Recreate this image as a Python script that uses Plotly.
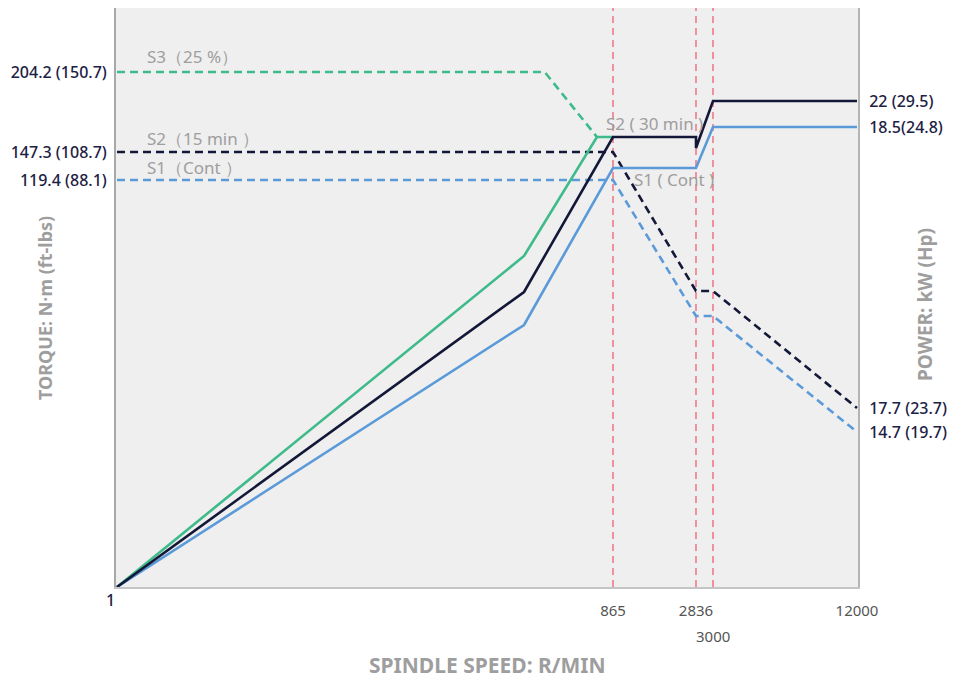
import numpy as np
import plotly.graph_objects as go

# ---------------- data ----------------
# spindle speed (r/min) ticks
speed_ticks = [865, 2836, 3000, 12000]
speed_tick_labels = ["865", "2836", "3000", "12000"]

# left axis: torque labels (N·m (ft-lbs)) and their schematic levels
torque_tick_labels = ["204.2 (150.7)", "147.3 (108.7)", "119.4 (88.1)"]
torque_tick_levels = [515, 435, 407]

# right axis: power labels (kW (Hp)) and their schematic levels
power_tick_labels = ["22 (29.5)", "18.5(24.8)", "17.7 (23.7)", "14.7 (19.7)"]
power_tick_levels = [486, 460, 179, 155]

# power curves (solid) : speed r/min, schematic level
s1_power_rpm = [1, 710, 865, 2836, 3000, 12000]
s1_power_lvl = [0, 262, 419, 419, 460, 460]
s2_power_rpm = [1, 710, 865, 2836, 2836, 3000, 12000]
s2_power_lvl = [0, 295, 450, 450, 439, 486, 486]
s3_power_rpm = [1, 710, 837, 865]
s3_power_lvl = [0, 331, 450, 450]

# torque curves (dashed)
s1_torque_rpm = [1, 865, 2836, 3000, 12000]
s1_torque_lvl = [407, 407, 271, 271, 155]
s2_torque_rpm = [1, 865, 2836, 3000, 12000]
s2_torque_lvl = [435, 435, 296, 296, 179]
s3_torque_rpm = [1, 746, 837]
s3_torque_lvl = [515, 515, 450]

# reference speeds (red dashed markers)
ref_speeds = [865, 2836, 3000]

# ---------------- non-uniform speed scale ----------------
SCALE_RPM = [1, 865, 2836, 3000, 12000]
SCALE_POS = [0, 496, 579, 596, 740]


def sx(v):
    return [float(p) for p in np.interp(v, SCALE_RPM, SCALE_POS)]


GREEN = "#3fba8b"
NAVY = "#141838"
BLUE = "#5b9ad8"
RED = "#ef6a7c"
GREY_T = "#9e9e9e"
LABEL = "#1c2143"
FONT = "Noto Sans, Open Sans, sans-serif"

fig = go.Figure()

# reference verticals
for r in ref_speeds:
    fig.add_shape(type="line", xref="x", yref="paper", x0=sx([r])[0], x1=sx([r])[0],
                  y0=0, y1=1, line=dict(color=RED, width=1.4, dash="7px,5px"), layer="below")


def add_line(rpm, lvl, color, dash, yaxis):
    fig.add_trace(go.Scatter(x=sx(rpm), y=lvl, mode="lines", yaxis=yaxis,
                             line=dict(color=color, width=2.6, dash=dash),
                             hoverinfo="skip", showlegend=False))


add_line(s3_torque_rpm, s3_torque_lvl, GREEN, "8px,5px", "y")
add_line(s2_torque_rpm, s2_torque_lvl, NAVY, "8px,5px", "y")
add_line(s1_torque_rpm, s1_torque_lvl, BLUE, "8px,5px", "y")
add_line(s3_power_rpm, s3_power_lvl, GREEN, "solid", "y2")
add_line(s1_power_rpm, s1_power_lvl, BLUE, "solid", "y2")
add_line(s2_power_rpm, s2_power_lvl, NAVY, "solid", "y2")

# series labels
series_labels = [
    ("S3（25 %）", 1, 515, 28, 16),
    ("S2（15 min ）", 1, 435, 28, 14),
    ("S1（Cont ）", 1, 407, 28, 13),
    ("S2 ( 30 min )", 865, 450, -9, 14),
    ("S1 ( Cont )", 865, 419, 19, -11),
]
for txt, r, lv, dx, dy in series_labels:
    fig.add_annotation(x=sx([r])[0], y=lv, xref="x", yref="y", text=txt, showarrow=False,
                       xanchor="left", yanchor="middle", xshift=dx, yshift=dy,
                       font=dict(family=FONT, size=17, color=GREY_T))

# lowered "3000" tick and origin "1"
fig.add_annotation(x=sx([3000])[0], y=0, xref="x", yref="paper", text=speed_tick_labels[2],
                   showarrow=False, xanchor="center", yanchor="middle", yshift=-49,
                   font=dict(family=FONT, size=15, color="#555555"))
fig.add_annotation(x=0, y=0, xref="paper", yref="paper", text="1", showarrow=False,
                   xanchor="right", yanchor="middle", xshift=1, yshift=-13,
                   font=dict(family=FONT, size=16, color=LABEL, weight=500))

# axis titles
fig.add_annotation(x=0.5, y=0, xref="paper", yref="paper", text="SPINDLE SPEED: R/MIN",
                   showarrow=False, xanchor="center", yanchor="middle", yshift=-78,
                   font=dict(family=FONT, size=21, color=GREY_T, weight="bold"))
fig.add_annotation(x=0, y=1 - 300 / 579, xref="paper", yref="paper", text="TORQUE: N·m (ft-lbs)",
                   showarrow=False, textangle=-90, xanchor="center", yanchor="middle", xshift=-71,
                   font=dict(family=FONT, size=18, color=GREY_T, weight="bold"))
fig.add_annotation(x=1, y=1 - 297 / 579, xref="paper", yref="paper", text="POWER: kW (Hp)",
                   showarrow=False, textangle=-90, xanchor="center", yanchor="middle", xshift=67,
                   font=dict(family=FONT, size=19, color=GREY_T, weight="bold"))

main_ticks = [0, 1, 3]
fig.update_layout(
    width=957, height=675,
    margin=dict(l=108, r=107, t=0, b=96),
    paper_bgcolor="white", plot_bgcolor="#efefef",
    font=dict(family=FONT),
    xaxis=dict(range=[-1, 741], showgrid=False, zeroline=False,
               tickvals=sx([speed_ticks[i] for i in main_ticks]),
               ticktext=[speed_tick_labels[i] for i in main_ticks],
               ticks="", ticklabelstandoff=9,
               tickfont=dict(family=FONT, size=15, color="#555555"),
               showline=True, linecolor="#c4c4c4", linewidth=2),
    yaxis=dict(range=[0, 579], showgrid=False, zeroline=False,
               tickvals=torque_tick_levels, ticktext=torque_tick_labels,
               ticks="", ticklabelstandoff=4,
               tickfont=dict(family=FONT, size=16, color=LABEL, weight=500),
               showline=True, linecolor="#a8a8a8", linewidth=2),
    yaxis2=dict(range=[0, 579], overlaying="y", side="right", showgrid=False, zeroline=False,
                tickvals=power_tick_levels, ticktext=power_tick_labels,
                ticks="", ticklabelstandoff=6,
                tickfont=dict(family=FONT, size=16, color=LABEL, weight=500),
                showline=True, linecolor="#b4b4b4", linewidth=2),
)

fig.write_html("out.html")
